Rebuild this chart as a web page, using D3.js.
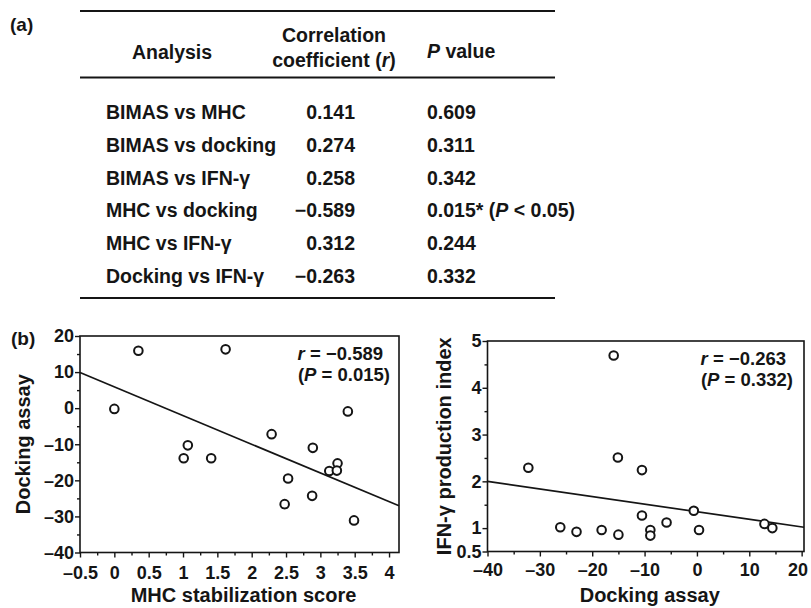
<!DOCTYPE html>
<html>
<head>
<meta charset="utf-8">
<script src="https://cdn.jsdelivr.net/npm/d3@7"></script>
<style>
  body { margin: 0; background: #fff; }
  text { font-family: "Liberation Sans", Arial, sans-serif; font-weight: bold; fill: #151515; }
  .domain { display: none; }
  .tick line { stroke: #151515; stroke-width: 1.4; }
  .tick text { font-size: 18px; }
</style>
</head>
<body>
<svg id="fig" width="811" height="608"></svg>
<script>
// (a) table
const analyses = ["BIMAS vs MHC", "BIMAS vs docking", "BIMAS vs IFN-γ",
                  "MHC vs docking", "MHC vs IFN-γ", "Docking vs IFN-γ"];
const rValues = [0.141, 0.274, 0.258, -0.589, 0.312, -0.263];
const pValues = [0.609, 0.311, 0.342, 0.015, 0.244, 0.332];

// (b) left: MHC stabilization score vs docking assay
const mhcScore = [0.35, 1.62, 0.00, 3.40, 2.29, 1.07, 1.01, 1.41, 2.89, 2.53, 3.13, 3.25, 3.24, 2.48, 2.88, 3.49];
const dockingA = [15.9, 16.3, -0.2, -0.9, -7.2, -10.3, -13.9, -13.9, -11.0, -19.5, -17.4, -15.3, -17.3, -26.6, -24.3, -31.1];
const fitA = [5.9, -7.95];   // intercept, slope of the drawn line
// (b) right: docking assay vs IFN-gamma production index
const dockingB = [-15.9, -32.2, -15.1, -10.5, -10.5, -0.6, -5.8, -26.1, -23.0, -18.2, -15.0, -8.9, -8.9, 0.4, 12.9, 14.4];
const ifnIndex = [4.69, 2.29, 2.51, 2.24, 1.27, 1.37, 1.12, 1.02, 0.92, 0.96, 0.86, 0.96, 0.84, 0.96, 1.09, 1.00];
const fitB = [1.35, -0.01625];

const xTicksA = [-0.5, 0, 0.5, 1, 1.5, 2, 2.5, 3, 3.5, 4];
const yTicksA = [-40, -30, -20, -10, 0, 10, 20];
const xTicksB = [-40, -30, -20, -10, 0, 10, 20];
const yTicksB = [0.5, 1, 2, 3, 4, 5];

const svg = d3.select("#fig");
const dash = s => String(s).replace("-", "–");
const f3 = d3.format(".3f");

// ---------- table ----------
const tbl = svg.append("g");
[11, 77.5, 298].forEach(y => {
  tbl.append("line").attr("x1", 80).attr("x2", 555).attr("y1", y).attr("y2", y)
    .attr("stroke", "#151515").attr("stroke-width", 2);
});
svg.append("text").attr("x", 10).attr("y", 31).style("font-size", "19px").text("(a)");

tbl.append("text").attr("x", 172).attr("y", 59).attr("text-anchor", "middle")
  .style("font-size", "19.5px").text("Analysis");
tbl.append("text").attr("x", 334).attr("y", 42).attr("text-anchor", "middle")
  .style("font-size", "19.5px").text("Correlation");
const coefT = tbl.append("text").attr("x", 334).attr("y", 67).attr("text-anchor", "middle")
  .style("font-size", "19.5px");
coefT.append("tspan").text("coefficient (");
coefT.append("tspan").style("font-style", "italic").text("r");
coefT.append("tspan").text(")");
const pvT = tbl.append("text").attr("x", 427).attr("y", 58).style("font-size", "19.5px");
pvT.append("tspan").style("font-style", "italic").text("P");
pvT.append("tspan").text(" value");

const rowY = d3.scaleLinear().domain([0, 5]).range([119, 283]);
const rows = tbl.selectAll(".row").data(analyses).enter().append("g").attr("class", "row");
rows.append("text").attr("x", 106).attr("y", (d, i) => rowY(i))
  .style("font-size", "19.5px").text(d => d);
rows.append("text").attr("x", 355).attr("y", (d, i) => rowY(i)).attr("text-anchor", "end")
  .style("font-size", "19.5px").text((d, i) => dash(f3(rValues[i])));
rows.each(function (d, i) {
  const t = d3.select(this).append("text").attr("x", 427).attr("y", rowY(i)).style("font-size", "19.5px");
  t.append("tspan").text(f3(pValues[i]));
  if (pValues[i] < 0.05) {
    t.append("tspan").text("* (");
    t.append("tspan").style("font-style", "italic").text("P");
    t.append("tspan").text(" < 0.05)");
  }
});

svg.append("text").attr("x", 11).attr("y", 345).style("font-size", "19px").text("(b)");

// ---------- scatter panels ----------
function panel(opt) {
  const g = svg.append("g");
  const x = d3.scaleLinear().domain(opt.xDomain).range(opt.xRange);
  const y = d3.scaleLinear().domain(opt.yDomain).range(opt.yRange);

  // minor ticks
  g.append("g").attr("transform", `translate(0,${opt.yRange[0]})`)
    .call(d3.axisBottom(x).tickValues(opt.xMinor).tickSize(3).tickSizeOuter(0).tickFormat(""));
  g.append("g").attr("transform", `translate(${opt.xRange[0]},0)`)
    .call(d3.axisLeft(y).tickValues(opt.yMinor).tickSize(3).tickSizeOuter(0).tickFormat(""));

  // major ticks
  const xAx = g.append("g").attr("transform", `translate(0,${opt.yRange[0]})`)
    .call(d3.axisBottom(x).tickValues(opt.xTicks).tickSize(5).tickSizeOuter(0)
      .tickPadding(opt.xPad).tickFormat(d => dash(d)));
  g.append("g").attr("transform", `translate(${opt.xRange[0]},0)`)
    .call(d3.axisLeft(y).tickValues(opt.yTicks).tickSize(5).tickSizeOuter(0)
      .tickPadding(1).tickFormat(d => dash(d)));
  g.selectAll(".tick text").attr("font-family", null).attr("font-size", null).attr("fill", null);
  // keep the last x label inside the page
  xAx.selectAll(".tick text").filter((d, i, n) => i === n.length - 1)
    .attr("text-anchor", "end").attr("dx", opt.lastDx);

  // frame
  g.append("rect")
    .attr("x", opt.xRange[0]).attr("y", opt.yRange[1])
    .attr("width", opt.xRange[1] - opt.xRange[0]).attr("height", opt.yRange[0] - opt.yRange[1])
    .attr("fill", "none").attr("stroke", "#151515").attr("stroke-width", 1.6);

  // fitted line
  const [b0, b1] = opt.fit;
  const xs = opt.xDomain;
  g.append("line")
    .attr("x1", x(xs[0])).attr("y1", y(b0 + b1 * xs[0]))
    .attr("x2", x(xs[1])).attr("y2", y(b0 + b1 * xs[1]))
    .attr("stroke", "#151515").attr("stroke-width", 1.7);

  // points
  g.selectAll("circle").data(opt.xs).enter().append("circle")
    .attr("cx", d => x(d)).attr("cy", (d, i) => y(opt.ys[i]))
    .attr("r", 4.3).attr("fill", "#fff").attr("stroke", "#151515").attr("stroke-width", 2);

  // annotation
  const a1 = g.append("text").attr("x", opt.annX).attr("y", opt.yRange[1] + 24)
    .attr("text-anchor", "end").style("font-size", "18.5px");
  a1.append("tspan").style("font-style", "italic").text("r");
  a1.append("tspan").text(" = " + dash(f3(opt.r)));
  const a2 = g.append("text").attr("x", opt.annX + 7).attr("y", opt.yRange[1] + 45)
    .attr("text-anchor", "end").style("font-size", "18.5px");
  a2.append("tspan").text("(");
  a2.append("tspan").style("font-style", "italic").text("P");
  a2.append("tspan").text(" = " + f3(opt.p) + ")");

  // axis titles
  g.append("text").attr("x", (opt.xRange[0] + opt.xRange[1]) / 2 + 4).attr("y", 602)
    .attr("text-anchor", "middle").style("font-size", "20px").text(opt.xTitle);
  g.append("text")
    .attr("transform", `translate(${opt.yTitleX},${(opt.yRange[0] + opt.yRange[1]) / 2}) rotate(-90)`)
    .attr("text-anchor", "middle").style("font-size", "20px").text(opt.yTitle);
}

panel({
  xDomain: [-0.5, 4.145], xRange: [80, 399],
  yDomain: [-40, 20], yRange: [552.5, 336],
  xTicks: xTicksA, yTicks: yTicksA,
  xMinor: d3.range(-0.25, 4.1, 0.5), yMinor: d3.range(-35, 20, 10),
  xPad: 9, lastDx: 5,
  xs: mhcScore, ys: dockingA, fit: fitA,
  r: rValues[3], p: pValues[3], annX: 383,
  xTitle: "MHC stabilization score", yTitle: "Docking assay", yTitleX: 30
});

panel({
  xDomain: [-40, 20.45], xRange: [487.5, 804],
  yDomain: [0.5, 5], yRange: [551.5, 341],
  xTicks: xTicksB, yTicks: yTicksB,
  xMinor: d3.range(-35, 20, 10), yMinor: [1.5, 2.5, 3.5, 4.5],
  xPad: 7, lastDx: 6,
  xs: dockingB, ys: ifnIndex, fit: fitB,
  r: rValues[5], p: pValues[5], annX: 786,
  xTitle: "Docking assay", yTitle: "IFN-γ production index", yTitleX: 451
});
</script>
</body>
</html>
